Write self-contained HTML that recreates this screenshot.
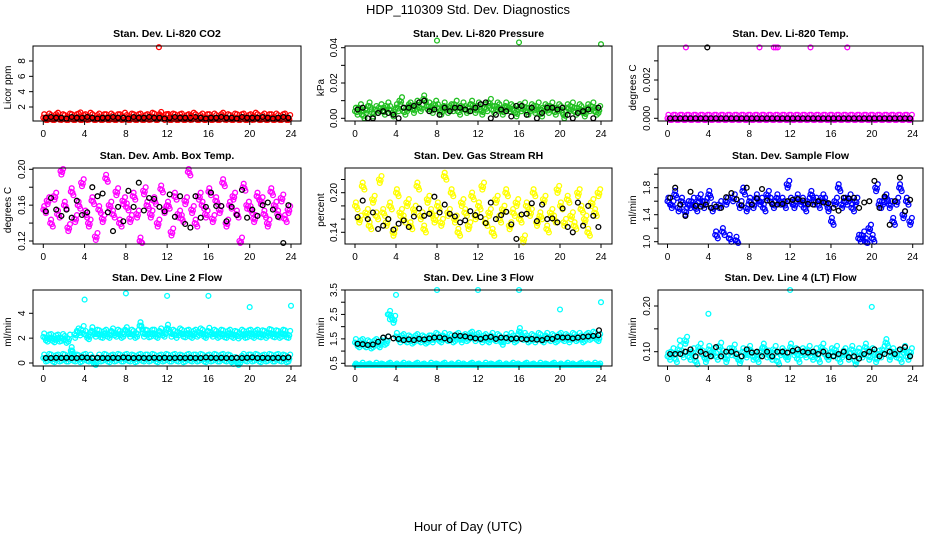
<!DOCTYPE html>
<html><head><meta charset="utf-8">
<style>
html,body{margin:0;padding:0;background:#fff;}
svg{display:block;font-family:"Liberation Sans",sans-serif;}
</style></head>
<body>
<svg id="chart" width="936" height="540" viewBox="0 0 936 540" xmlns="http://www.w3.org/2000/svg">
<rect width="936" height="540" fill="#fff"/>
<text x="468" y="14" text-anchor="middle" font-size="13">HDP_110309  Std. Dev. Diagnostics</text>
<text x="468" y="531" text-anchor="middle" font-size="13">Hour of Day (UTC)</text>
</svg>
<script>
// ---- data ----
const xTicks = [0,4,8,12,16,20,24];
const co2Red = [0.6,0.7,0.5,0.6,0.8,0.6,0.5,0.7,0.6,0.6,0.7,0.5,0.6,0.8,0.6,0.5,0.7,0.6,0.6,0.7,0.5,0.6,0.6,0.8,0.5,0.7,0.6,0.6,0.7,0.5,0.6,0.8,0.7,0.6,0.9,0.6,0.5,0.7,0.6,0.6,0.7,0.5,0.6,0.8,0.6,0.5,0.7,0.6,0.6,0.7,0.5,0.6,0.8,0.6,0.5,0.7,0.6,0.6,0.7,0.5,0.6,0.8,0.6,0.5,0.7,0.6,0.6,0.7,0.5,0.6,0.7,0.5];
const co2Black = [0.6,0.7,0.6,0.6,0.5,0.7,0.6,0.6,0.7,0.6,0.5,0.6,0.6,0.7,0.6,0.6,0.5,0.7,0.6,0.6,0.7,0.6,0.6,0.5,0.6,0.7,0.6,0.6,0.6,0.7,0.6,0.5,0.6,0.6,0.7,0.6,0.6,0.5,0.7,0.6,0.6,0.6,0.7,0.6,0.5,0.6,0.7,0.6];
const co2Outliers = [[11.2,9.8],[3.6,1.3],[12.1,1.1],[14.3,0.9]];

const pressGreen = [.004,.006,.002,.005,.007,.003,.005,.006,.004,.007,.005,.003,.006,.010,.004,.006,.007,.005,.008,.006,.011,.007,.005,.008,.006,.004,.007,.005,.006,.008,.004,.007,.005,.006,.008,.005,.007,.004,.006,.009,.005,.007,.006,.004,.007,.006,.005,.003,.006,.007,.004,.006,.005,.007,.003,.006,.005,.007,.004,.006,.005,.002,.006,.007,.004,.006,.005,.003,.006,.007,.004,.005];
const pressBlack = [.005,.006,.000,.000,.003,.004,.003,.002,.000,.006,.006,.007,.009,.010,.004,.005,.002,.006,.004,.006,.006,.005,.004,.006,.008,.009,.000,.002,.005,.004,.001,.007,.007,.002,.006,.000,.003,.006,.006,.005,.006,.002,.000,.003,.004,.005,.000,.006];
const pressOutliers = [[8,0.044],[16,0.043],[24,0.042]];

const tempMagenta = [0,0,0,0,0,0,0,0,0,0,0,0,0,0,0,0,0,0,0,0,0,0,0,0,0,0,0,0,0,0,0,0,0,0,0,0,0,0,0,0,0,0,0,0,0,0,0,0,0,0,0,0,0,0,0,0,0,0,0,0,0,0,0,0,0,0,0,0,0,0,0,0];
const tempBlack = [0,0,0,0,0,0,0,0,0,0,0,0,0,0,0,0,0,0,0,0,0,0,0,0,0,0,0,0,0,0,0,0,0,0,0,0,0,0,0,0,0,0,0,0,0,0,0,0];
const tempOutliers = [[1.8,0.0037],[9,0.0037],[10.4,0.0037],[10.6,0.0037],[10.8,0.0037],[14,0.0037],[17.6,0.0037]];
const tempBlackOutliers = [[3.9,0.0037]];

const boxMagenta = [.155,.165,.14,.17,.15,.198,.16,.135,.175,.145,.16,.185,.15,.14,.165,.125,.155,.145,.19,.16,.15,.175,.14,.165,.158,.145,.17,.15,.12,.176,.16,.15,.165,.14,.178,.155,.16,.13,.17,.15,.145,.165,.197,.155,.14,.17,.16,.15,.175,.145,.165,.155,.185,.14,.16,.17,.15,.12,.18,.16,.155,.145,.17,.165,.15,.14,.175,.16,.15,.168,.145,.155];
const boxBlack = [.153,.168,.155,.148,.155,.146,.165,.149,.152,.18,.17,.173,.152,.131,.158,.142,.176,.158,.185,.154,.168,.167,.158,.153,.172,.147,.17,.139,.135,.17,.146,.158,.174,.159,.159,.142,.158,.149,.177,.146,.155,.148,.16,.163,.155,.147,.115,.16];

const rhYellow = [.18,.16,.21,.17,.15,.19,.165,.22,.17,.155,.18,.14,.2,.17,.16,.185,.15,.175,.21,.165,.145,.19,.17,.16,.18,.155,.225,.17,.2,.16,.14,.185,.17,.15,.195,.165,.18,.21,.155,.17,.14,.19,.16,.175,.2,.15,.17,.185,.16,.13,.18,.17,.2,.155,.165,.19,.145,.17,.16,.205,.18,.155,.19,.165,.15,.2,.175,.16,.14,.185,.17,.2];
const rhBlack = [.163,.188,.16,.17,.145,.15,.16,.144,.153,.158,.148,.164,.176,.165,.168,.194,.17,.182,.168,.164,.155,.158,.172,.166,.163,.154,.185,.16,.166,.171,.152,.13,.167,.168,.184,.157,.182,.16,.161,.155,.176,.148,.14,.185,.15,.18,.165,.148];

const flowBlue = [1.6,1.55,1.7,1.5,1.6,1.45,1.55,1.6,1.5,1.65,1.55,1.6,1.7,1.5,1.1,1.55,1.15,1.6,1.05,1.65,1.02,1.55,1.75,1.5,1.6,1.55,1.65,1.6,1.5,1.7,1.6,1.55,1.65,1.6,1.55,1.85,1.6,1.55,1.65,1.6,1.5,1.6,1.7,1.6,1.55,1.65,1.6,1.5,1.3,1.6,1.8,1.55,1.6,1.65,1.5,1.6,1.05,1.1,1.0,1.2,1.05,1.8,1.55,1.6,1.65,1.55,1.3,1.6,1.8,1.4,1.6,1.3];
const flowBlack = [1.65,1.8,1.55,1.38,1.74,1.53,1.52,1.55,1.5,1.52,1.5,1.66,1.72,1.63,1.54,1.8,1.55,1.64,1.78,1.61,1.56,1.55,1.56,1.6,1.62,1.63,1.61,1.56,1.55,1.6,1.58,1.57,1.5,1.46,1.65,1.64,1.65,1.5,1.58,1.6,1.9,1.5,1.67,1.25,1.6,1.95,1.45,1.62];

const line2High = [2.1,2.0,2.05,1.95,2.0,2.05,1.9,2.0,1.0,2.3,2.5,2.7,2.3,2.2,2.6,2.4,2.35,2.3,2.4,2.3,2.5,2.4,2.3,2.4,2.6,2.4,2.3,2.4,3.0,2.4,2.35,2.4,2.4,2.3,2.5,2.4,2.8,2.4,2.3,2.5,2.4,2.35,2.4,2.3,2.4,2.5,2.4,2.3,2.55,2.4,2.3,2.4,2.35,2.3,2.4,2.3,2.25,2.4,2.3,2.35,2.4,2.3,2.4,2.35,2.3,2.45,2.4,2.35,2.3,2.4,2.35,2.3];
const line2Low = [0.4,0.45,0.4,0.35,0.4,0.45,0.4,0.4,0.45,0.4,0.35,0.4,0.45,0.4,0.2,0.1,0.4,0.45,0.4,0.35,0.4,0.45,0.4,0.4,0.45,0.4,0.35,0.4,0.45,0.4,0.4,0.45,0.4,0.35,0.4,0.45,0.4,0.4,0.45,0.4,0.35,0.4,0.45,0.4,0.4,0.45,0.4,0.35,0.4,0.45,0.4,0.4,0.45,0.4,0.35,0.2,0.1,0.3,0.45,0.4,0.4,0.45,0.4,0.35,0.4,0.45,0.4,0.4,0.45,0.4,0.35,0.4];
const line2Black = [0.4,0.4,0.42,0.4,0.42,0.4,0.4,0.45,0.42,0.4,0.42,0.4,0.4,0.42,0.4,0.45,0.42,0.4,0.42,0.4,0.4,0.42,0.4,0.42,0.4,0.4,0.42,0.4,0.42,0.4,0.4,0.45,0.42,0.4,0.42,0.4,0.4,0.42,0.4,0.42,0.45,0.4,0.42,0.4,0.4,0.42,0.4,0.45];
const line2Outliers = [[4,5.1],[8,5.6],[12,5.4],[16,5.4],[20,4.5],[24,4.6],[9.5,3.0],[2.8,1.0]];

const line3High = [1.35,1.3,1.35,1.3,1.25,1.3,1.35,1.3,1.4,1.45,2.5,2.3,1.6,1.5,1.55,1.5,1.45,1.5,1.55,1.5,1.45,1.5,1.5,1.6,1.55,1.5,1.6,1.55,1.5,1.55,1.6,1.5,1.55,1.6,1.65,1.55,1.6,1.5,1.55,1.5,1.6,1.55,1.5,1.4,1.55,1.6,1.5,1.55,1.8,1.6,1.5,1.55,1.5,1.6,1.55,1.5,1.6,1.55,1.5,1.55,1.6,1.55,1.5,1.6,1.55,1.6,1.5,1.55,1.6,1.65,1.6,1.55];
const line3Low = [0.35,0.3,0.38,0.32,0.35,0.3,0.38,0.35,0.32,0.35,0.38,0.3,0.35,0.32,0.38,0.35,0.3,0.35,0.38,0.32,0.35,0.3,0.38,0.35,0.32,0.35,0.38,0.3,0.35,0.32,0.38,0.35,0.3,0.35,0.38,0.32,0.35,0.3,0.38,0.35,0.32,0.35,0.38,0.3,0.35,0.32,0.38,0.35,0.3,0.35,0.38,0.32,0.35,0.3,0.38,0.35,0.32,0.35,0.38,0.3,0.35,0.32,0.38,0.35,0.3,0.35,0.38,0.32,0.35,0.3,0.38,0.35];
const line3Black = [1.3,1.28,1.25,1.27,1.38,1.55,1.6,1.52,1.5,1.45,1.48,1.45,1.5,1.48,1.52,1.55,1.56,1.52,1.45,1.64,1.62,1.6,1.55,1.52,1.5,1.55,1.58,1.5,1.55,1.54,1.5,1.52,1.5,1.48,1.5,1.47,1.45,1.52,1.5,1.58,1.55,1.56,1.52,1.55,1.58,1.6,1.62,1.65];
const line3Outliers = [[3.2,2.5],[3.4,2.3],[4,3.3],[8,3.5],[12,3.5],[16,3.5],[20,2.7],[24,3.0],[16,1.8]];
const line3BlackOutliers = [[23.8,1.85]];

const line4Cyan = [.09,.1,.085,.105,.095,.125,.09,.1,.08,.11,.095,.085,.105,.1,.09,.112,.095,.085,.1,.108,.09,.082,.1,.095,.105,.09,.085,.1,.11,.095,.09,.105,.08,.1,.095,.09,.11,.1,.085,.1,.095,.105,.09,.1,.085,.11,.095,.09,.1,.105,.085,.095,.1,.09,.105,.08,.1,.095,.11,.09,.1,.085,.095,.105,.12,.09,.1,.095,.085,.105,.09,.1];
const line4Black = [.095,.095,.095,.1,.105,.09,.1,.095,.09,.11,.09,.1,.1,.095,.09,.105,.098,.1,.09,.1,.09,.1,.1,.098,.102,.105,.1,.098,.1,.095,.1,.092,.09,.095,.1,.088,.09,.085,.095,.1,.105,.09,.095,.1,.095,.105,.11,.09];
const line4Outliers = [[4,0.183],[12,0.235],[20,0.198],[1.2,0.125]];

// ---- layout (not data) ----
const cols = [{l:33,r:301,x0:43.3,x24:291,yt:7},{l:345,r:612,x0:355,x24:601,yt:320},{l:658,r:923,x0:667.5,x24:912.7,yt:632}];
const rows = [{t:46,b:121},{t:168,b:244},{t:290,b:366}];
const copyOffsets = [[0,0],[1.7,1],[0.9,-3.5],[2.6,3.5]];
const svg = document.getElementById('chart');
const NS = 'http://www.w3.org/2000/svg';
function mk(tag, attrs, parent){const e=document.createElementNS(NS,tag);for(const k in attrs)e.setAttribute(k,attrs[k]);(parent||svg).appendChild(e);return e;}

const panels = [
 {name:'co2',title:'Stan. Dev. Li-820 CO2',ylab:'Licor ppm',r:0,c:0,v1:2,p1:107,v2:8,p2:61,ticks:[2,4,6,8],labels:['2','4','6','8'],
  series:[{d:co2Red,col:'#ff0000',n:72},{d:co2Black,col:'#000',n:48}],out:[{d:co2Outliers,col:'#ff0000'}]},
 {name:'pressure',title:'Stan. Dev. Li-820 Pressure',ylab:'kPa',r:0,c:1,v1:0,p1:118.3,v2:0.04,p2:47.7,ticks:[0,0.01,0.02,0.03,0.04],labels:['0.00','','0.02','','0.04'],
  series:[{d:pressGreen,col:'#22c022',n:72},{d:pressBlack,col:'#000',n:48}],out:[{d:pressOutliers,col:'#22c022'}]},
 {name:'temp',title:'Stan. Dev. Li-820 Temp.',ylab:'degrees C',r:0,c:2,v1:0,p1:118.3,v2:0.002,p2:80,ticks:[0,0.001,0.002,0.003],labels:['0.000','','0.002',''],
  series:[{d:tempMagenta,col:'#ff00ff',n:72},{d:tempBlack,col:'#000',n:48}],out:[{d:tempOutliers,col:'#ff00ff'},{d:tempBlackOutliers,col:'#000'}]},
 {name:'box-temp',title:'Stan. Dev. Amb. Box Temp.',ylab:'degrees C',r:1,c:0,v1:0.12,p1:241,v2:0.20,p2:169.3,ticks:[0.12,0.14,0.16,0.18,0.20],labels:['0.12','','0.16','','0.20'],
  series:[{d:boxMagenta,col:'#ff00ff',n:72},{d:boxBlack,col:'#000',n:48}],out:[]},
 {name:'gas-rh',title:'Stan. Dev. Gas Stream RH',ylab:'percent',r:1,c:1,v1:0.14,p1:232.3,v2:0.20,p2:192.7,ticks:[0.14,0.16,0.18,0.20,0.22],labels:['0.14','','','0.20',''],
  series:[{d:rhYellow,col:'#ffff00',n:72},{d:rhBlack,col:'#000',n:48}],out:[]},
 {name:'sample-flow',title:'Stan. Dev. Sample Flow',ylab:'ml/min',r:1,c:2,v1:1.0,p1:241.7,v2:1.8,p2:187.7,ticks:[1.0,1.2,1.4,1.6,1.8,2.0],labels:['1.0','','1.4','','1.8',''],
  series:[{d:flowBlue,col:'#0000ff',n:72},{d:flowBlack,col:'#000',n:48}],out:[]},
 {name:'line2-flow',title:'Stan. Dev. Line 2 Flow',ylab:'ml/min',r:2,c:0,v1:0,p1:363,v2:4,p2:313.3,ticks:[0,2,4],labels:['0','2','4'],
  series:[{d:line2High,col:'#00ffff',n:72},{d:line2Low,col:'#00ffff',n:72},{d:line2Black,col:'#000',n:48}],out:[{d:line2Outliers,col:'#00ffff'}]},
 {name:'line3-flow',title:'Stan. Dev. Line 3 Flow',ylab:'ml/min',r:2,c:1,v1:0.5,p1:363.3,v2:3.5,p2:290,ticks:[0.5,1,1.5,2,2.5,3,3.5],labels:['0.5','','1.5','','2.5','','3.5'],
  series:[{d:line3High,col:'#00ffff',n:72},{d:line3Low,col:'#00ffff',n:72},{d:line3Black,col:'#000',n:48}],out:[{d:line3Outliers,col:'#00ffff'},{d:line3BlackOutliers,col:'#000'}]},
 {name:'line4-flow',title:'Stan. Dev. Line 4 (LT) Flow',ylab:'ml/min',r:2,c:2,v1:0.10,p1:351.7,v2:0.20,p2:306,ticks:[0.10,0.15,0.20],labels:['0.10','','0.20'],
  series:[{d:line4Cyan,col:'#00ffff',n:72},{d:line4Black,col:'#000',n:48}],out:[{d:line4Outliers,col:'#00ffff'}]}
];

panels.forEach(p=>{
  const C=cols[p.c], R=rows[p.r];
  const g=mk('g',{});
  
  
  const xs=v=>C.x0+(C.x24-C.x0)*v/24;
  const ys=v=>p.p1+(p.p2-p.p1)*(v-p.v1)/(p.v2-p.v1);
  const t=mk('text',{x:(C.l+C.r)/2,y:R.t-9,'text-anchor':'middle','font-size':'10.5','font-weight':'bold'},g);
  t.textContent=p.title;
  
  
  const yl=mk('text',{x:C.yt,y:(R.t+R.b)/2,'text-anchor':'middle','font-size':'10',transform:`rotate(-90 ${C.yt+4} ${(R.t+R.b)/2})`},g);
  yl.textContent=p.ylab;
  
  
  const pts=mk('g',{fill:'none','stroke-width':'1.3'},g);
  
  
  p.series.forEach(s=>{
    s.d.forEach((v,i)=>{
      const xv = s.n===72 ? i/3 : i/2+0.25;
      const cx=xs(xv), cy=ys(v);
      const offs = s.n===72 ? copyOffsets : [copyOffsets[0]];
      offs.forEach((o,k)=>{
        const dy = (k>=2 && i%2) ? -o[1] : o[1];
        const yy = Math.max(R.t+1, Math.min(R.b-1, cy+dy));
        const c=mk('circle',{cx:(cx+o[0]).toFixed(1),cy:yy.toFixed(1),r:2.4,stroke:s.col},pts);
        
        
      });
    });
  });
  p.out.forEach(o=>{
    o.d.forEach(pt=>{
      const c=mk('circle',{cx:xs(pt[0]).toFixed(1),cy:ys(pt[1]).toFixed(1),r:2.4,stroke:o.col},pts);
      
      
    });
  });
  const b=mk('rect',{x:C.l,y:R.t,width:C.r-C.l,height:R.b-R.t,fill:'none',stroke:'#000','stroke-width':'1'},g);
  
  
  const xa=mk('g',{},g);
  
  
  xTicks.forEach(v=>{
    const x=xs(v);
    mk('line',{x1:x,x2:x,y1:R.b,y2:R.b+4,stroke:'#000'},xa);
    const tl=mk('text',{x:x,y:R.b+16,'text-anchor':'middle','font-size':'10'},xa);
    tl.textContent=v;
  });
  const ya=mk('g',{},g);
  
  
  p.ticks.forEach((v,i)=>{
    const y=ys(v);
    if(y<R.t-1||y>R.b+1) return;
    mk('line',{x1:C.l-4,x2:C.l,y1:y,y2:y,stroke:'#000'},ya);
    if(p.labels[i]){
      const lx=C.l-8;
      const tl=mk('text',{x:lx,y:y,'text-anchor':'middle','font-size':'10',transform:`rotate(-90 ${lx} ${y})`},ya);
      tl.textContent=p.labels[i];
    }
  });
});
</script>
</body></html>
